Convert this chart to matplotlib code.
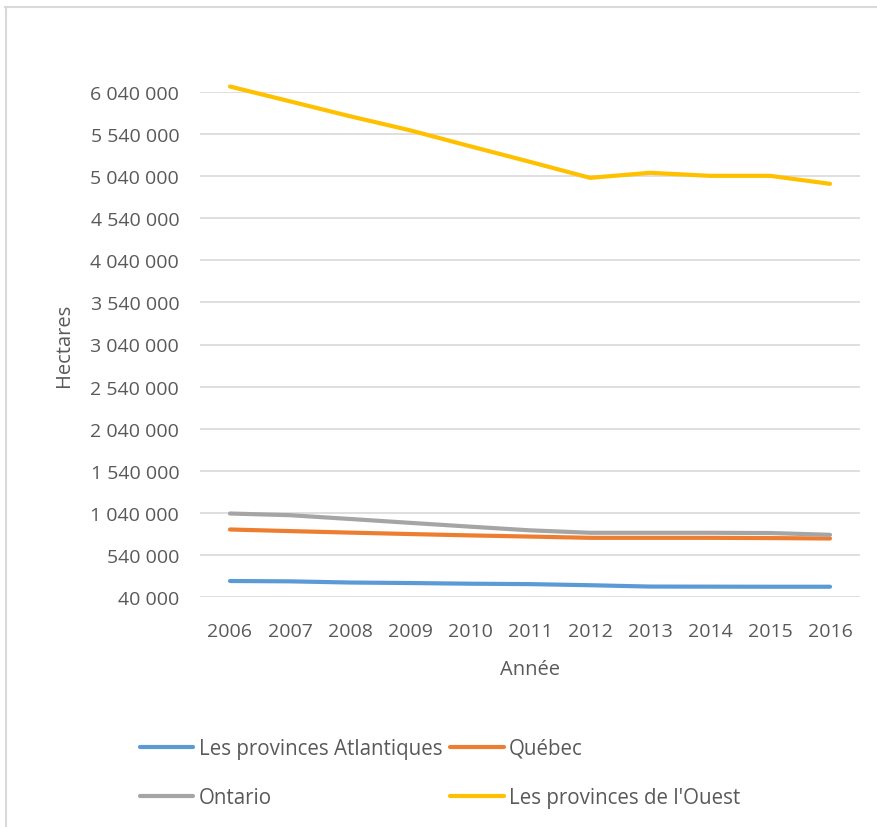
import matplotlib
matplotlib.use("Agg")
from matplotlib import pyplot as plt
from matplotlib.lines import Line2D

plt.rcParams['font.family'] = ['Open Sans', 'DejaVu Sans']

annees = [2006, 2007, 2008, 2009, 2010, 2011, 2012, 2013, 2014, 2015, 2016]

atlantiques = [230000, 226000, 212000, 206000, 198000, 193000, 180000, 164000, 163000, 162000, 162000]
quebec = [842000, 823000, 805000, 788000, 772000, 758000, 743000, 743000, 743000, 740000, 735000]
ontario = [1032000, 1012000, 967000, 921000, 876000, 832000, 803000, 803000, 803000, 800000, 779000]
ouest = [6105000, 5929000, 5752000, 5585000, 5396000, 5210000, 5020000, 5080000, 5044000, 5044000, 4949000]

noms = ["Les provinces Atlantiques", u"Québec", "Ontario", "Les provinces de l'Ouest"]
couleurs = ["#5B9BD5", "#ED7D31", "#A5A5A5", "#FFC000"]

y_ticks = list(range(40000, 6040001, 500000))

gris_texte = "#595959"

fig = plt.figure(figsize=(8.77, 8.28), dpi=100)
ax = fig.add_axes([200/877, 1 - 598/828, 660/877, 505/828])

x = list(range(len(annees)))
lignes = []
for serie, nom, c in zip([atlantiques, quebec, ontario, ouest], noms, couleurs):
    l, = ax.plot(x, serie, color=c, lw=3, solid_capstyle='round',
                 solid_joinstyle='round', label=nom, clip_on=False, zorder=3)
    lignes.append(l)

ax.set_xlim(-0.5, len(annees) - 0.5)
ax.set_ylim(40000, 6040000)
ax.set_xticks(x)
ax.set_xticklabels([str(a) for a in annees])
ax.set_yticks(y_ticks)
ax.set_yticklabels([f"{v:,}".replace(",", " ") for v in y_ticks])

for s in ax.spines.values():
    s.set_visible(False)
ax.tick_params(length=0, labelsize=14, colors=gris_texte)
ax.tick_params(axis='y', pad=15)
ax.tick_params(axis='x', pad=18, labelsize=14)
ax.grid(True, axis='y', color='#D9D9D9', lw=1.2)
ax.set_axisbelow(True)

ax.set_xlabel(u"Année", fontsize=14.5, color=gris_texte, labelpad=14)
ax.set_ylabel("Hectares", fontsize=14.5, color=gris_texte, labelpad=12)

# ordre par lignes : Atlantiques, Québec / Ontario, Ouest
ordre = [0, 2, 1, 3]
fig.legend([lignes[i] for i in ordre], [noms[i] for i in ordre],
           loc='upper left', bbox_to_anchor=(140/877, 1 - 739/828), ncol=2,
           frameon=False, fontsize=14.8, labelcolor=gris_texte,
           handlelength=2.6, handletextpad=0.25, columnspacing=0.4,
           labelspacing=1.37, borderaxespad=0, borderpad=0)

# cadre gris clair (haut et gauche)
fig.add_artist(Line2D([5/877, 1], [1 - 8/828, 1 - 8/828], color='#D9D9D9', lw=1.5))
fig.add_artist(Line2D([6/877, 6/877], [0, 1 - 8/828], color='#D9D9D9', lw=1.5))

fig.savefig("out.png", dpi=100, facecolor='white')
